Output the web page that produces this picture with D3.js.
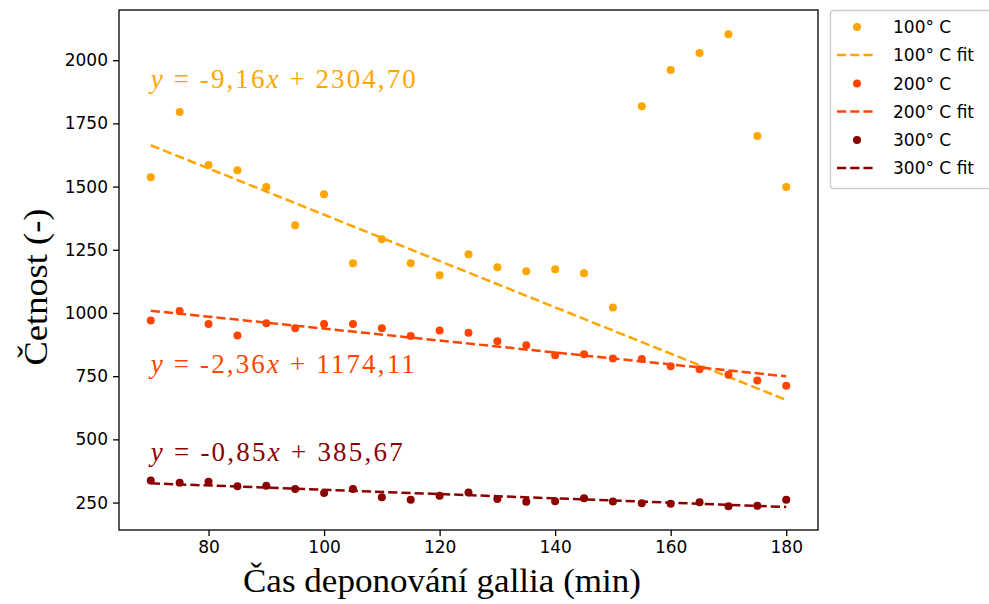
<!DOCTYPE html>
<html><head><meta charset="utf-8">
<script src="https://cdn.jsdelivr.net/npm/d3@7"></script>
<style>body{margin:0;background:#fff}svg{display:block}</style>
</head><body>
<svg id="c" width="989" height="604"></svg>
<script>
const times = [70,75,80,85,90,95,100,105,110,115,120,125,130,135,140,145,150,155,160,165,170,175,180];
const counts100 = [1537,1795,1585,1565,1498,1347,1470,1197,1292,1197,1149,1232,1181,1165,1173,1157,1022,1818,1961,2028,2103,1700,1498];
const counts200 = [970,1008,956,911,959,940,956,956,940,909,931,922,888,872,833,837,820,818,789,777,756,733,712];
const counts300 = [337,328,332,315,317,304,288,304,271,261,277,290,264,253,255,267,254,247,245,251,235,237,261];
const seriesNames = ["100° C","200° C","300° C"];
const slopes = [-9.16,-2.36,-0.85];
const intercepts = [2304.70,1174.11,385.67];
const eqLabels = ["-9,16","-2,36","-0,85"];
const eqConsts = ["2304,70","1174,11","385,67"];
const eqAnchorY = [1888,762,416];
const xTicks = [80,100,120,140,160,180];
const yTicks = [250,500,750,1000,1250,1500,1750,2000];
const colors = ["#FFA500","#FF4500","#8B0000"];

const svg = d3.select("#c");
const L=119, R=818, T=10, B=530;
const x = d3.scaleLinear().domain([64.5,185.5]).range([L,R]);
const y = d3.scaleLinear().domain([141.5,2198.5]).range([B,T]);
const allCounts = [counts100,counts200,counts300];
const eqWidths = [265,264,252];

const g = svg.append("g");
allCounts.forEach((vals,i)=>{
  g.append("g").selectAll("circle").data(times).join("circle")
    .attr("cx",d=>x(d)).attr("cy",(d,j)=>y(vals[j])).attr("r",4).attr("fill",colors[i]);
  const x0=times[0], x1=times[times.length-1];
  g.append("line").attr("x1",x(x0)).attr("x2",x(x1))
    .attr("y1",y(slopes[i]*x0+intercepts[i])).attr("y2",y(slopes[i]*x1+intercepts[i]))
    .attr("stroke",colors[i]).attr("stroke-width",2.5).attr("stroke-dasharray","9.2,4");
});
allCounts.forEach((v,i)=>{
  const t = g.append("text").attr("x",x(70)).attr("y",y(eqAnchorY[i]))
    .attr("fill",colors[i]).attr("font-family","Liberation Serif, serif").attr("font-size",27)
    .attr("textLength",eqWidths[i]).attr("lengthAdjust","spacing");
  t.append("tspan").attr("font-style","italic").text("y");
  t.append("tspan").text(" = "+eqLabels[i]);
  t.append("tspan").attr("font-style","italic").text("x");
  t.append("tspan").text(" + "+eqConsts[i]);
});
svg.append("rect").attr("x",L).attr("y",T).attr("width",R-L).attr("height",B-T)
  .attr("fill","none").attr("stroke","#000").attr("stroke-width",1.3);
const xa = svg.append("g").attr("transform",`translate(0,${B})`)
  .call(d3.axisBottom(x).tickValues(xTicks).tickSize(6).tickPadding(5).tickFormat(d3.format("d")));
const ya = svg.append("g").attr("transform",`translate(${L},0)`)
  .call(d3.axisLeft(y).tickValues(yTicks).tickSize(6).tickPadding(5).tickFormat(d3.format("d")));
[xa,ya].forEach(a=>{
  a.select(".domain").remove();
  a.selectAll("line").attr("stroke","#000").attr("stroke-width",1.3);
  a.selectAll("text").attr("font-family","DejaVu Sans").attr("font-size",17).attr("fill","#000");
});
svg.append("text").attr("x",442).attr("y",592).attr("text-anchor","middle")
  .attr("font-family","Liberation Serif, serif").attr("font-size",33)
  .attr("textLength",398).attr("lengthAdjust","spacingAndGlyphs").text("Čas deponování gallia (min)");
svg.append("text").attr("transform","translate(47,287) rotate(-90)").attr("text-anchor","middle")
  .attr("font-family","Liberation Serif, serif").attr("font-size",33)
  .attr("textLength",157).attr("lengthAdjust","spacingAndGlyphs").text("Četnost (-)");
const lg = svg.append("g");
lg.append("rect").attr("x",830.5).attr("y",10.5).attr("width",170).attr("height",178).attr("rx",3)
  .attr("fill","#fff").attr("stroke","#ccc").attr("stroke-width",1.3);
seriesNames.forEach((n,i)=>{
  const y1 = 27 + i*56.5, y2 = y1+28;
  lg.append("circle").attr("cx",857).attr("cy",y1).attr("r",4).attr("fill",colors[i]);
  lg.append("text").attr("x",893).attr("y",y1+6).attr("font-family","DejaVu Sans").attr("font-size",17).text(n);
  lg.append("line").attr("x1",837).attr("x2",876).attr("y1",y2).attr("y2",y2)
    .attr("stroke",colors[i]).attr("stroke-width",2.5).attr("stroke-dasharray","9.2,4");
  lg.append("text").attr("x",893).attr("y",y2+6).attr("font-family","DejaVu Sans").attr("font-size",17).text(n+" fit");
});
</script>
</body></html>
